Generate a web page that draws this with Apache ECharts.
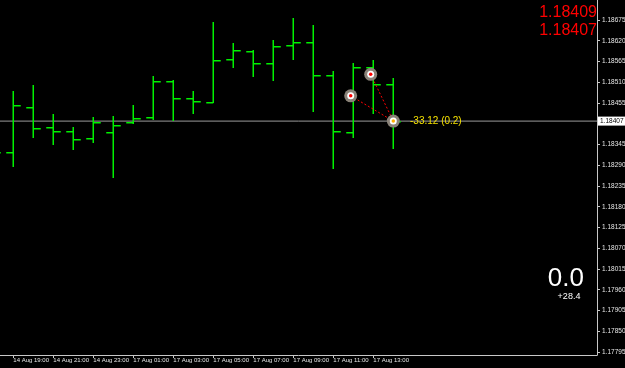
<!DOCTYPE html>
<html>
<head>
<meta charset="utf-8">
<script src="https://cdn.jsdelivr.net/npm/echarts@6/dist/echarts.min.js"></script>
<style>
html,body{margin:0;padding:0;background:#000;}
#c{width:625px;height:368px;}
</style>
</head>
<body>
<div id="c"></div>
<script>
// ---- data ----
const barTimes = ['14 Aug 18:00','14 Aug 19:00','14 Aug 20:00','14 Aug 21:00','14 Aug 22:00','14 Aug 23:00',
  '17 Aug 00:00','17 Aug 01:00','17 Aug 02:00','17 Aug 03:00','17 Aug 04:00','17 Aug 05:00','17 Aug 06:00',
  '17 Aug 07:00','17 Aug 08:00','17 Aug 09:00','17 Aug 10:00','17 Aug 11:00','17 Aug 12:00','17 Aug 13:00','17 Aug 14:00'];
const barIndex = [-1,0,1,2,3,4,5,6,7,8,9,10,11,12,13,14,15,16,17,18,19];
const opens  = [1.18330,1.18324,1.18444,1.18391,1.18380,1.18361,1.18379,1.18404,1.18417,1.18513,1.18469,1.18458,1.18571,1.18594,1.18561,1.18609,1.18617,1.18529,1.18378,1.18550,1.18505];
const highs  = [1.18357,1.18487,1.18503,1.18425,1.18391,1.18418,1.18421,1.18450,1.18527,1.18516,1.18488,1.18669,1.18613,1.18595,1.18622,1.18680,1.18662,1.18539,1.18561,1.18569,1.18521];
const lows   = [1.18304,1.18289,1.18364,1.18346,1.18334,1.18352,1.18258,1.18403,1.18412,1.18411,1.18429,1.18458,1.18551,1.18527,1.18517,1.18572,1.18433,1.18284,1.18366,1.18429,1.18337];
const closes = [1.18324,1.18450,1.18389,1.18380,1.18359,1.18405,1.18397,1.18415,1.18514,1.18469,1.18460,1.18570,1.18595,1.18562,1.18605,1.18616,1.18528,1.18381,1.18550,1.18505,1.18407];
const priceTicks = [1.18675,1.18620,1.18565,1.18510,1.18455,1.18345,1.18290,1.18235,1.18180,1.18125,1.18070,1.18015,1.17960,1.17905,1.17850,1.17795];
const timeTickIndex = [0,2,4,6,8,10,12,14,16,18];
const tradeX = [16.87, 17.87, 19.0];
const tradePrice = [1.18474, 1.18531, 1.18407];
const bidPrice = 1.18407;
const askPrice = 1.18409;
const profitText = '-33.12 (0.2)';
const bigValue = '0.0';
const smallValue = '+28.4';

// ---- chart ----
const barColor = '#00f000';
const xMin = -0.665, xMax = 29.185;
const chart = echarts.init(document.getElementById('c'), null, {renderer:'canvas'});

function renderItem(params, api) {
  const k = api.value(0);
  const pO = api.coord([k, api.value(1)]);
  const pH = api.coord([k, api.value(2)]);
  const pL = api.coord([k, api.value(3)]);
  const pC = api.coord([k, api.value(4)]);
  const x = Math.round(pH[0]) + 0.25;
  const yo = Math.round(pO[1]) + 0.75, yc = Math.round(pC[1]) + 0.75;
  const w = 1.5;
  return {type:'group', children:[
    {type:'line', shape:{x1:x, y1:Math.round(pH[1]), x2:x, y2:Math.round(pL[1]) + 1},
      style: {stroke: barColor, lineWidth: w}},
    {type:'line', shape:{x1:x - 7, y1:yo, x2:x, y2:yo}, style: {stroke: barColor, lineWidth: w}},
    {type:'line', shape:{x1:x, y1:yc, x2:x + 7.5, y2:yc}, style: {stroke: barColor, lineWidth: w}}
  ]};
}

const ohlc = barIndex.map((k, i) => [k, opens[i], highs[i], lows[i], closes[i]]);
const trades = tradeX.map((x, i) => [x, tradePrice[i]]);
const axisCol = '#c8c8c8';
const labelCol = '#e6e6e6';
const lblFont = 'Liberation Sans, Arial, sans-serif';

chart.setOption({
  animation: false,
  backgroundColor: '#000',
  grid: {left: 0, right: 28, top: 0, bottom: 13, outerBoundsMode: 'none'},
  xAxis: {
    type: 'value', min: xMin, max: xMax,
    axisLine: {show: true, onZero: false, lineStyle: {color: axisCol, width: 1}},
    axisTick: {show: true, length: 3, customValues: timeTickIndex, lineStyle: {color: axisCol}},
    axisLabel: {show: true, customValues: timeTickIndex, formatter: v => barTimes[Math.round(v) + 1],
      align: 'left', margin: 2, fontSize: 6, color: labelCol, fontFamily: lblFont},
    splitLine: {show: false}
  },
  yAxis: {
    type: 'value', position: 'right', min: 1.17787, max: 1.18728, scale: true,
    axisLine: {show: true, onZero: false, lineStyle: {color: axisCol, width: 1}},
    axisTick: {show: true, length: 3, customValues: priceTicks, lineStyle: {color: axisCol}},
    axisLabel: {show: true, customValues: priceTicks, formatter: v => v.toFixed(5),
      margin: 5, fontSize: 6.5, color: labelCol, fontFamily: lblFont},
    splitLine: {show: false}
  },
  series: [
    {type: 'line', data: [[xMin, bidPrice], [xMax, bidPrice]], symbol: 'none', z: 2, silent: true,
      lineStyle: {color: '#9a9a9a', width: 1},
      endLabel: {show: true, distance: 1, formatter: () => bidPrice.toFixed(5),
        backgroundColor: '#ffffff', color: '#000', fontSize: 6.5, padding: [1, 2], fontFamily: lblFont}},
    {
      type: 'custom', renderItem: renderItem, data: ohlc, clip: true,
      encode: {x: 0, y: [1, 2, 3, 4]}, z: 3
    },
    {type: 'line', data: [trades[0], trades[2]], symbol: 'none', z: 4,
      lineStyle: {color: '#ff0000', width: 1, type: [2, 2]}},
    {type: 'line', data: [trades[1], trades[2]], symbol: 'none', z: 4,
      lineStyle: {color: '#ff0000', width: 1, type: [2, 2]}},
    {type: 'scatter', data: trades, symbol: 'circle', symbolSize: 13, z: 5,
      itemStyle: {color: '#8a8278', opacity: 1}},
    {type: 'scatter', data: trades, symbol: 'circle', symbolSize: 7, z: 6,
      itemStyle: {color: '#ffffff', opacity: 1}},
    {type: 'scatter', data: trades.map((d, i) => ({value: d, itemStyle: {color: i === 2 ? '#ffb000' : '#ff0000'}})),
      symbol: 'circle', symbolSize: 3.5, z: 7, itemStyle: {opacity: 1}}
  ],
  graphic: [
    {type: 'text', right: 28, top: 5, z: 100, style: {text: askPrice.toFixed(5), fill: '#ff0000',
      font: '16px "Liberation Sans", Arial, sans-serif'}},
    {type: 'text', right: 28, top: 23, z: 100, style: {text: bidPrice.toFixed(5), fill: '#ff0000',
      font: '16px "Liberation Sans", Arial, sans-serif'}},
    {type: 'text', x: 410, y: 121, z: 100, style: {text: profitText, fill: '#f5e100',
      font: '10px "Liberation Sans", Arial, sans-serif', verticalAlign: 'middle', align: 'left'}},
    {type: 'text', x: 584, y: 279, z: 100, style: {text: bigValue, fill: '#ffffff',
      font: '26px "Liberation Sans", Arial, sans-serif', verticalAlign: 'middle', align: 'right'}},
    {type: 'text', x: 569, y: 296.5, z: 100, style: {text: smallValue, fill: '#ffffff',
      font: '9px "Liberation Sans", Arial, sans-serif', verticalAlign: 'middle', align: 'center'}}
  ]
});
</script>
</body>
</html>
